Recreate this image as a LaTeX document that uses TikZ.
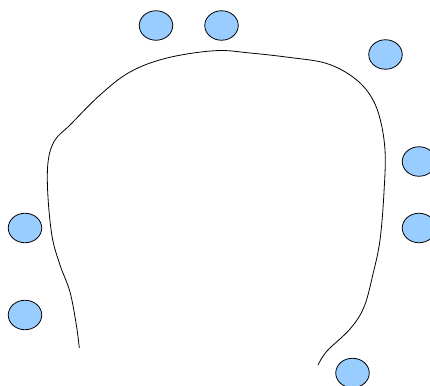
\documentclass[tikz,border=0pt]{standalone}
\usetikzlibrary{shapes.geometric}
\begin{document}
\begin{tikzpicture}[x=1pt,y=-1pt,
  blob/.style={ellipse,draw=black,line width=0.8pt,fill=blobblue,minimum width=33.5pt,minimum height=29.5pt,inner sep=0pt},
  line/.style={draw=black,line width=0.8pt}]
\definecolor{blobblue}{HTML}{99CCFF}
\useasboundingbox (0,0) rectangle (430,385);
\node[blob] (e1) at (156,25.5) {};
\node[blob] (e2) at (221.5,25.5) {};
\node[blob] (e3) at (385.5,54.5) {};
\node[blob] (e4) at (419,161.5) {};
\node[blob] (e5) at (419,228) {};
\node[blob] (e6) at (25,228) {};
\node[blob] (e7) at (25,315) {};
\node[blob] (e8) at (352.5,373) {};
\draw[line] plot[smooth,tension=0.6] coordinates {
 (79.3,348) (76.5,326) (70,292) (60,265) (52,236) (47.7,192)
 (48.3,160) (55,140) (70,125) (100,95) (130,72) (167,58) (215,50.7)
 (250,53) (290,57.5) (325,63) (350,75) (368,92) (379,115) (385,150) (384,192)
 (380,240) (373,274) (364,307) (350,329) (327,351) (318,365)};
\end{tikzpicture}
\end{document}
